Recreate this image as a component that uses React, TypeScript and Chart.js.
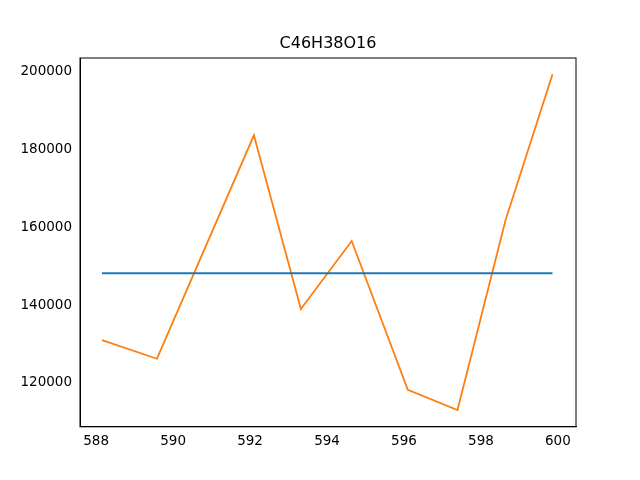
import { useEffect, useRef } from 'react'
import { Chart, registerables } from 'chart.js'

Chart.register(...registerables)

const massX = [588.15, 589.58, 592.1, 593.32, 594.64, 596.1, 597.39, 598.64, 599.86]
const intensity = [131000, 126200, 183700, 139000, 156500, 118200, 113000, 161900, 199400]
const meanLevel = 148200
const xTicks = [588, 590, 592, 594, 596, 598, 600]
const yTicks = [120000, 140000, 160000, 180000, 200000]
const titleText = 'C46H38O16'

// frame around the plot plus a title centred on the plot area
const framePlugin = {
  id: 'frame',
  afterDraw(chart: any) {
    const { ctx, chartArea } = chart
    ctx.save()
    ctx.strokeStyle = '#000'
    ctx.lineWidth = 1
    ctx.strokeRect(chartArea.left, chartArea.top, chartArea.right - chartArea.left, chartArea.bottom - chartArea.top)
    ctx.fillStyle = '#000'
    ctx.font = '16px "DejaVu Sans"'
    ctx.textAlign = 'center'
    ctx.textBaseline = 'bottom'
    ctx.fillText(titleText, (chartArea.left + chartArea.right) / 2, chartArea.top - 6)
    ctx.restore()
  },
}

export default function App() {
  const chartRef = useRef<HTMLCanvasElement | null>(null)
  const chartInstance = useRef<Chart | null>(null)

  useEffect(() => {
    if (!chartRef.current) return
    if (chartInstance.current) chartInstance.current.destroy()
    const ctx = chartRef.current.getContext('2d')
    if (!ctx) return
    const font = { family: 'DejaVu Sans', size: 13.5 }
    chartInstance.current = new Chart(ctx, {
      type: 'line',
      data: {
        datasets: [
          {
            data: [
              { x: massX[0], y: meanLevel },
              { x: massX[massX.length - 1], y: meanLevel },
            ],
            borderColor: '#1f77b4',
            borderWidth: 1.8,
            pointRadius: 0,
          },
          {
            data: massX.map((x, i) => ({ x, y: intensity[i] })),
            borderColor: '#ff7f0e',
            borderWidth: 1.8,
            pointRadius: 0,
          },
        ],
      },
      options: {
        animation: false,
        responsive: false,
        layout: { padding: { top: 58, right: 64, left: 0, bottom: 28 } },
        plugins: {
          legend: { display: false },
          tooltip: { enabled: false },
          title: { display: false },
        },
        scales: {
          x: {
            type: 'linear',
            min: 587.58,
            max: 600.47,
            grid: { display: false, drawTicks: true, tickLength: 5, tickColor: '#000' },
            border: { color: '#000' },
            afterBuildTicks: (axis: any) => {
              axis.ticks = xTicks.map((v) => ({ value: v }))
            },
            ticks: { color: '#000', font, maxRotation: 0, padding: 2 },
          },
          y: {
            min: 108680,
            max: 203600,
            grid: { display: false, drawTicks: true, tickLength: 5, tickColor: '#000' },
            border: { color: '#000' },
            afterBuildTicks: (axis: any) => {
              axis.ticks = yTicks.map((v) => ({ value: v }))
            },
            afterFit: (axis: any) => {
              axis.width = 80
            },
            ticks: { color: '#000', font, padding: 3, callback: (v: any) => String(v) },
          },
        },
      },
      plugins: [framePlugin],
    })
    return () => {
      if (chartInstance.current) chartInstance.current.destroy()
    }
  }, [])

  return (
    <div style={{ width: 640, height: 480, margin: -8, background: '#fff' }}>
      <canvas ref={chartRef} width={640} height={480}></canvas>
    </div>
  )
}
